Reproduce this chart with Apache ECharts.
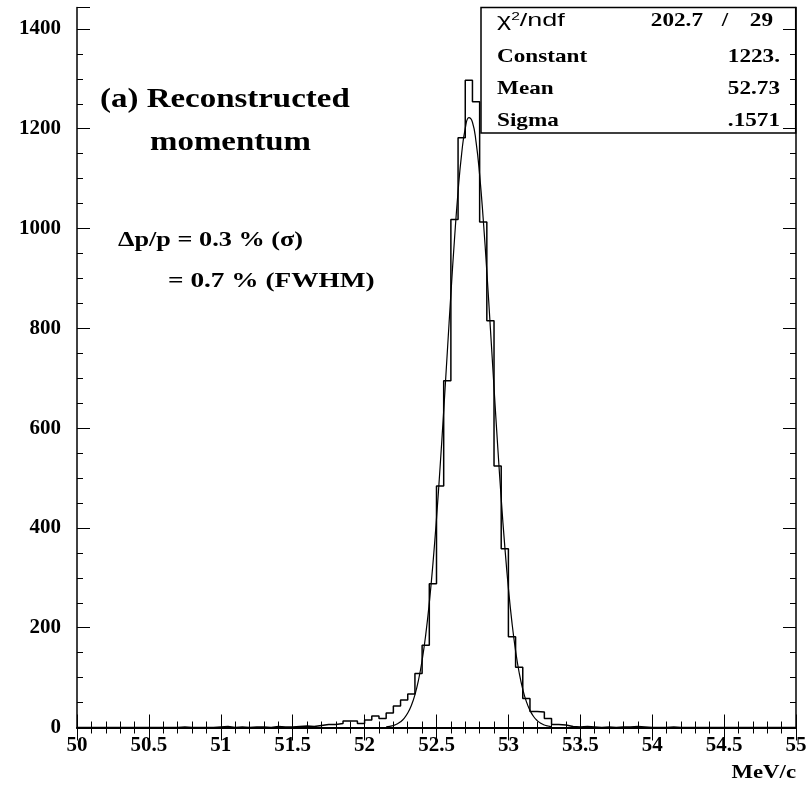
<!DOCTYPE html>
<html><head><meta charset="utf-8">
<script src="https://cdn.jsdelivr.net/npm/echarts@6/dist/echarts.min.js"></script>
<style>html,body{margin:0;padding:0;background:#fff}#c{width:811px;height:787px}</style>
</head><body><div id="c"></div>
<script>
// Histogram: 100 bins of 0.05 MeV/c from 50 to 55
const binStart = 50;
const binWidth = 0.05;
const counts = [
  0,0,0,0,0,0,0,0,0,0, 0,0,0,0,1,0,0,0,0,1,
  2,0,1,0,1,1,0,2,1,1, 2,3,2,4,6,6,8,13,13,8,
  15,23,18,29,43,55,67,108,165,288,
  484,695,1018,1182,1297,1254,1013,815,524,358,
  182,121,58,32,31,18,6,5,2,1,
  2,1,0,1,0,1,1,2,1,0,
  0,0,1,0,0,0,0,0,0,0, 0,0,0,0,0,0,0,0,0,0
];
// Fitted gaussian curve
const fitX = [52.15,52.175,52.2,52.225,52.25,52.275,52.3,52.325,52.35,52.375,52.4,52.425,52.45,52.475,52.5,52.525,52.55,52.575,52.6,52.625,52.65,52.675,52.7,52.725,52.75,52.775,52.8,52.825,52.85,52.875,52.9,52.925,52.95,52.975,53.0,53.025,53.05,53.075,53.1,53.125,53.15,53.175,53.2,53.225,53.25,53.275,53.3];
const fitY = [1.3,2.4,4.1,7.0,11.5,18.4,28.9,44.1,65.6,95.2,134.6,185.7,249.8,327.5,418.8,522.0,634.4,751.7,868.5,978.2,1074.3,1150.2,1200.9,1222.4,1213.1,1173.8,1107.5,1018.6,913.6,798.9,681.0,566.1,458.8,362.5,279.2,209.7,153.6,109.7,76.4,51.8,34.3,22.1,13.9,8.5,5.1,3.0,1.7];
const xTicks = ['50','50.5','51','51.5','52','52.5','53','53.5','54','54.5','55'];
const statNames = ['Constant','Mean','Sigma'];
const statValues = ['1223.','52.73','.1571'];
const chi2 = '202.7', ndf = '29';

const histPts = [[binStart, 0]];
counts.forEach((v, i) => {
  const lo = +(binStart + i * binWidth).toFixed(4), hi = +(binStart + (i + 1) * binWidth).toFixed(4);
  histPts.push([lo, v]); histPts.push([hi, v]);
});
histPts.push([+(binStart + counts.length * binWidth).toFixed(4), 0]);

const serif = 'Liberation Serif';
const lblFont = {fontFamily: serif, fontWeight: 'bold', fontSize: 21, color: '#000'};
const chart = echarts.init(document.getElementById('c'), null, {renderer: 'canvas'});
const axLine = w => ({show: true, lineStyle: {color: '#000', width: w}});
const tick = {show: true, inside: true, length: 13, lineStyle: {color: '#000', width: 1}};
const mtick = n => ({show: true, splitNumber: n, length: 6, lineStyle: {color: '#000', width: 1}});
const sb = 'bold 19px "Liberation Serif"';
const txt = (x, y, text, font, sx, align) => ({type: 'text', z: 11, x: x, y: y, scaleX: sx, scaleY: 1,
  style: {text: text, align: align || 'left', verticalAlign: 'middle', font: font, fill: '#000'}});
chart.setOption({
  animation: false,
  backgroundColor: '#fff',
  grid: {left: 77, right: 15, top: 7.5, bottom: 59.5, containLabel: false},
  xAxis: [
    {type: 'value', min: 50, max: 55, interval: 0.5, position: 'bottom',
     axisLine: axLine(2.2), axisTick: tick, minorTick: mtick(5), splitLine: {show: false},
     axisLabel: Object.assign({margin: 8, formatter: v => xTicks[Math.round((v - 50) / 0.5)] || ''}, lblFont)},
    {type: 'value', min: 50, max: 55, interval: 0.5, position: 'top',
     axisLine: axLine(1.5), axisTick: tick, minorTick: mtick(5), splitLine: {show: false}, axisLabel: {show: false}}
  ],
  yAxis: [
    {type: 'value', min: 0, max: 1443, interval: 200, position: 'left',
     axisLine: axLine(1.5), axisTick: tick, minorTick: mtick(4), splitLine: {show: false},
     axisLabel: Object.assign({margin: 16, showMaxLabel: false, formatter: v => String(v)}, lblFont)},
    {type: 'value', min: 0, max: 1443, interval: 200, position: 'right',
     axisLine: axLine(1.5), axisTick: tick, minorTick: mtick(4), splitLine: {show: false}, axisLabel: {show: false}}
  ],
  series: [
    {type: 'line', data: histPts, showSymbol: false, symbol: 'none', z: 3,
     lineStyle: {color: '#000', width: 1.5}},
    {type: 'line', data: fitX.map((x, i) => [x, fitY[i]]), smooth: true, showSymbol: false, symbol: 'none', z: 4,
     lineStyle: {color: '#000', width: 1.2}}
  ],
  graphic: [
    {type: 'rect', z: -1, shape: {x: 481, y: 7.5, width: 314.7, height: 125.5},
     style: {fill: '#fff', stroke: '#000', lineWidth: 1.5}},
    {type: 'text', z: 11, x: 497, y: 21, scaleX: 1.42,
     style: {text: '{a|χ}{s|2}{a|/ndf}', verticalAlign: 'middle', rich: {a: {fontFamily: 'Liberation Sans', fontSize: 19, fill: '#000'}, s: {fontFamily: 'Liberation Sans', fontSize: 11, fill: '#000', verticalAlign: 'top', padding: [0,0,9,0]}}}},
    txt(703, 21, chi2, sb, 1.22, 'right'),
    txt(725, 21, '/', sb, 1.22, 'center'),
    txt(773, 21, ndf, sb, 1.22, 'right'),
    ...statNames.map((n, i) => txt(497, 57 + i * 32, n, sb, 1.22, 'left')),
    ...statValues.map((n, i) => txt(780, 57 + i * 32, n, sb, 1.22, 'right')),
    txt(100, 100, '(a) Reconstructed', 'bold 27px "Liberation Serif"', 1.22),
    txt(150, 143, 'momentum', 'bold 27px "Liberation Serif"', 1.22),
    txt(118, 241, 'Δp/p = 0.3 % (σ)', 'bold 21px "Liberation Serif"', 1.25),
    txt(168, 282, '= 0.7 % (FWHM)', 'bold 21px "Liberation Serif"', 1.3),
    txt(796, 773, 'MeV/c', 'bold 19px "Liberation Serif"', 1.2, 'right')
  ]
});
</script></body></html>
